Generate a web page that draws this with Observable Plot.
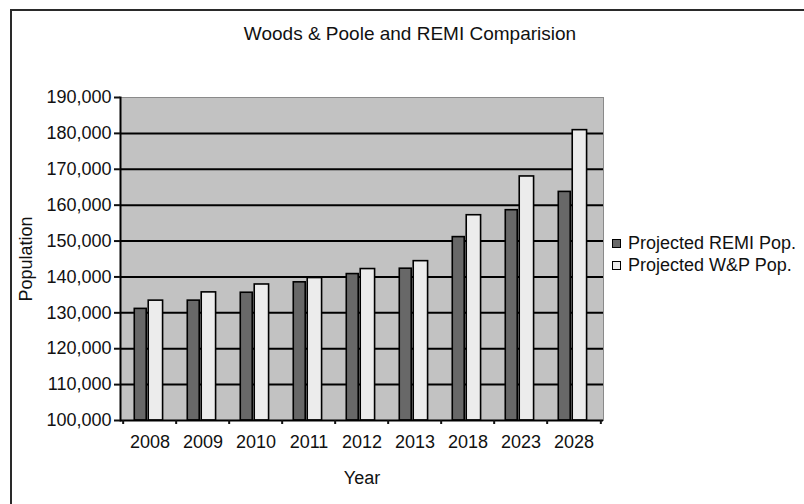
<!DOCTYPE html>
<html><head><meta charset="utf-8">
<script src="https://cdn.jsdelivr.net/npm/d3@7"></script>
<script src="https://cdn.jsdelivr.net/npm/@observablehq/plot@0.6"></script>
<style>
body{margin:0;background:#fff;}
#wrap{position:relative;width:804px;height:504px;overflow:hidden;font-family:"Liberation Sans",Arial,sans-serif;color:#111;}
#border{position:absolute;left:10px;top:9px;width:830px;height:530px;border:2px solid #2a2a2a;box-sizing:border-box;}
#title{position:absolute;left:0;top:24px;width:820px;text-align:center;font-size:19px;line-height:19px;}
#chart{position:absolute;left:0;top:0;}
.leg{position:absolute;left:612px;font-size:18px;line-height:20px;white-space:nowrap;display:flex;align-items:center;}
.sw{width:9px;height:9px;border:1.5px solid #000;box-sizing:border-box;margin-right:7px;}
</style></head>
<body>
<div id="wrap">
  <div id="border"></div>
  <div id="title">Woods &amp; Poole and REMI Comparision</div>
  <div id="chart"></div>
  <div class="leg" style="top:233px"><div class="sw" style="background:#686868"></div>Projected REMI Pop.</div>
  <div class="leg" style="top:255px"><div class="sw" style="background:#ececec"></div>Projected W&amp;P Pop.</div>
</div>
<script>
const years = ["2008","2009","2010","2011","2012","2013","2018","2023","2028"];
const remiPop = [131100,133400,135600,138500,140800,142300,151100,158600,163700];
const wpPop   = [133400,135700,137900,139700,142200,144400,157200,168000,180900];
const yTicks  = [100000,110000,120000,130000,140000,150000,160000,170000,180000,190000];
const gridTicks = [110000,120000,130000,140000,150000,160000,170000,180000];

const data = years.map((y,i)=>({year:y, remi:remiPop[i], wp:wpPop[i]}));
const W=804,H=504,mL=120,mR=201,mT=97,mB=84;
const bw=(W-mL-mR)/years.length;
const yMin=yTicks[0], yMax=yTicks[yTicks.length-1];
const font='"Liberation Sans", Arial, sans-serif';

const chart = Plot.plot({
  width:W, height:H, marginLeft:mL, marginRight:mR, marginTop:mT, marginBottom:mB,
  style:{fontFamily:font, fontSize:"18px", color:"#111", background:"transparent", overflow:"visible"},
  x:{domain:years, padding:0},
  y:{domain:[yMin,yMax]},
  marks:[
    Plot.frame({fill:"#c2c2c2", stroke:"#8a8a8a", strokeWidth:1}),
    Plot.ruleY(gridTicks, {stroke:"#000", strokeWidth:2}),
    Plot.barY(data, {x:"year", y1:()=>yMin, y2:"remi", fill:"#686868", stroke:"#000", strokeWidth:1.6,
      insetLeft:0.21*bw, insetRight:bw-0.445*bw}),
    Plot.barY(data, {x:"year", y1:()=>yMin, y2:"wp", fill:"#ececec", stroke:"#000", strokeWidth:1.6,
      insetLeft:0.47*bw, insetRight:bw-0.75*bw}),
    Plot.ruleY([yMin], {stroke:"#000", strokeWidth:2}),
    Plot.frame({anchor:"left", stroke:"#000", strokeWidth:2}),
    Plot.axisY({ticks:yTicks, tickFormat:d3.format(","), tickSize:6, tickPadding:3, strokeWidth:2,
      label:"Population", labelAnchor:"center", labelArrow:"none", labelOffset:101}),
    Plot.axisX({tickSize:0, tickPadding:15, label:"Year", labelAnchor:"center", labelArrow:"none", labelOffset:63}),
    Plot.axisX({ticks:years, tickSize:4, strokeWidth:2, text:null, label:null, dx:-bw/2}),
    Plot.axisX({ticks:[years[years.length-1]], tickSize:4, strokeWidth:2, text:null, label:null, dx:bw/2})
  ]
});
document.getElementById("chart").appendChild(chart);
</script>
</body></html>
